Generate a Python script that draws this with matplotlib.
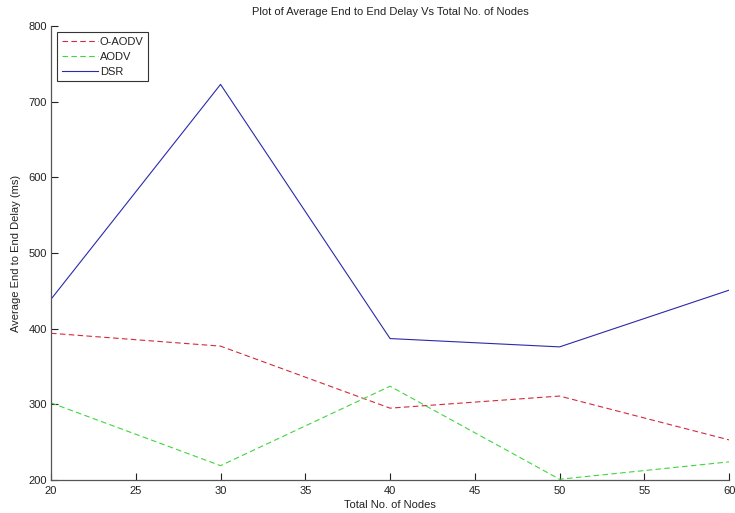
import matplotlib
matplotlib.use("Agg")
import matplotlib.pyplot as plt

# node counts and average end-to-end delay (ms) per protocol
nodes = [20, 30, 40, 50, 60]
o_aodv = [394, 377, 295, 311, 253]
aodv = [302, 219, 324, 201, 224]
dsr = [439, 723, 387, 376, 451]

plt.rcParams['font.family'] = ['Liberation Sans', 'DejaVu Sans']

fig = plt.figure(figsize=(7.35, 5.13), dpi=100)
ax = fig.add_axes([0.0694, 0.0643, 0.9226, 0.8847])

ax.plot(nodes, o_aodv, '--', color='#d42a3c', lw=0.8, dashes=(5, 3), label='O-AODV')
ax.plot(nodes, aodv, '--', color='#3fd63f', lw=0.8, dashes=(5, 3), label='AODV')
ax.plot(nodes, dsr, '-', color='#2a2aaa', lw=0.8, label='DSR')

ax.set_xlim(20, 60)
ax.set_ylim(200, 800)
ax.set_xticks(range(20, 61, 5))
ax.set_yticks(range(200, 801, 100))

# axes box off, ticks inside like the MATLAB default
for side in ('top', 'right'):
    ax.spines[side].set_visible(False)
for side in ('left', 'bottom'):
    ax.spines[side].set_color('#555555')
    ax.spines[side].set_linewidth(0.9)
ax.tick_params(direction='in', length=5, width=0.8, labelsize=8, colors='#222222', pad=3)
ax.tick_params(axis='x', pad=4)

ax.set_title('Plot of Average End to End Delay Vs Total No. of Nodes', fontsize=8, pad=8, color='#222222')
ax.set_xlabel('Total No. of Nodes', fontsize=8, labelpad=3, color='#222222')
ax.set_ylabel('Average End to End Delay (ms)', fontsize=8, labelpad=5, color='#222222')

leg = ax.legend(loc='upper left', fontsize=8, fancybox=False, framealpha=1,
                edgecolor='#333333', borderaxespad=0.55, handlelength=3.3,
                handletextpad=0.15, labelspacing=0.45, borderpad=0.4)
leg.get_frame().set_linewidth(0.8)
for t in leg.get_texts():
    t.set_color('#222222')

fig.savefig('out.png', dpi=100)
